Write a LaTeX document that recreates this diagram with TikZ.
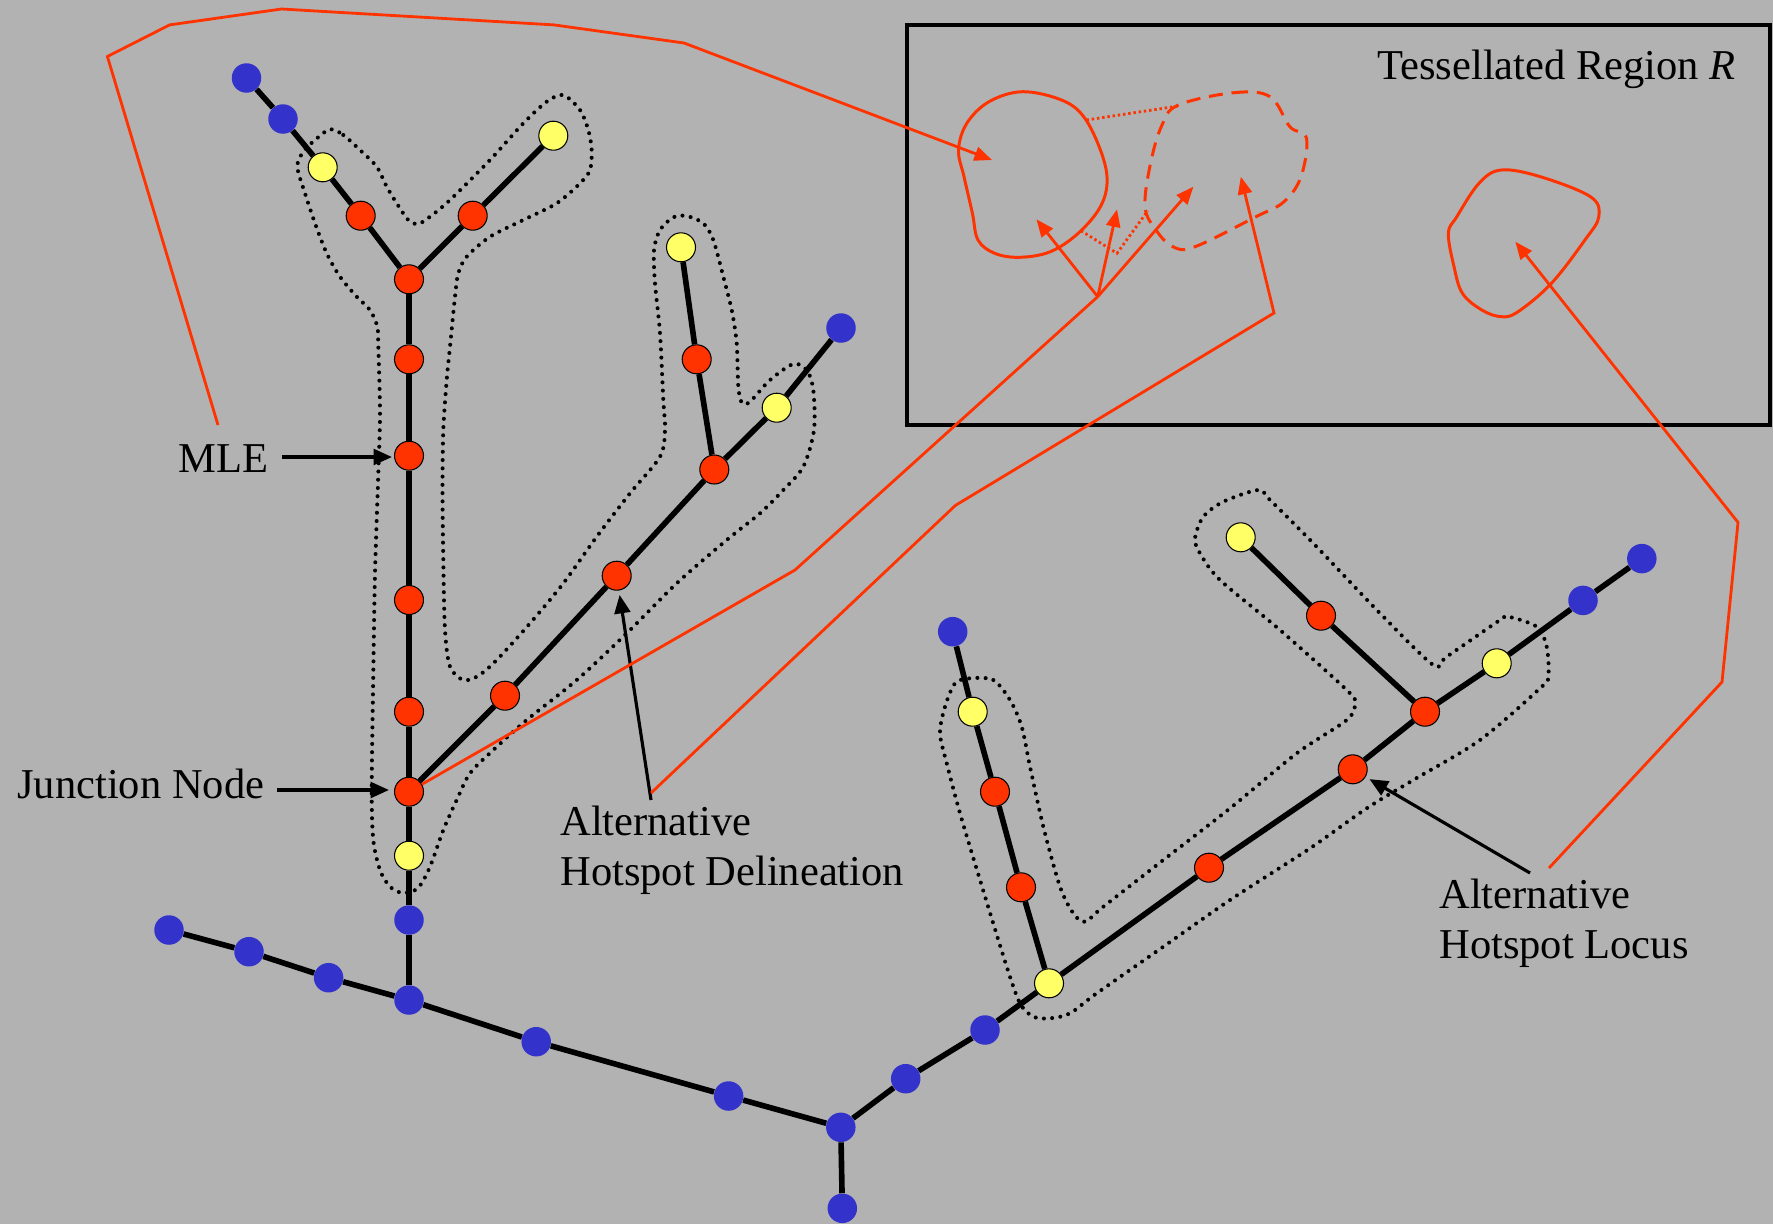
\documentclass[tikz,border=0pt]{standalone}
\usepackage{fontspec}
\setmainfont{Liberation Serif}
\usetikzlibrary{arrows.meta,calc}
\definecolor{bgc}{HTML}{B2B2B2}
\definecolor{rednode}{HTML}{FF3300}
\definecolor{yelnode}{HTML}{FFFF66}
\definecolor{bluenode}{HTML}{3333CC}
\definecolor{orl}{HTML}{FF3300}
\begin{document}
\begin{tikzpicture}[x=0.02cm,y=-0.02cm,
  tn/.style={circle,minimum size=0.58cm,inner sep=0pt,draw=black,line width=0.6pt},
  rn/.style={tn,fill=rednode},
  yn/.style={tn,fill=yelnode},
  bn/.style={circle,minimum size=0.59cm,inner sep=0pt,fill=bluenode},
  edge/.style={line width=3.2pt,black},
  hot/.style={draw=black,line width=2.3pt,dash pattern=on 0pt off 4.7pt,line cap=round},
  lbl/.style={font=\fontsize{24.2pt}{29pt}\selectfont,inner sep=0pt},
  karr/.style={line width=1.8pt,-{Triangle[length=10.5pt,width=9pt]}},
  oline/.style={orl,line width=1.6pt},
  oarr/.style={oline,-{Triangle[length=10pt,width=8pt]}},
  odot/.style={orl,line width=1.6pt,dash pattern=on 1.4pt off 1.6pt},
  loopl/.style={orl,line width=1.7pt},
]
\fill[bgc] (0,0) rectangle (1773,1224);
\useasboundingbox (0,0) rectangle (1773,1224);

% hotspot delineations (dotted)
\draw[hot] plot[smooth cycle,tension=0.5] coordinates {
(330,129.3) (343.3,135) (360,150) (376.7,166.7) (386.7,186.7) (396.7,203.3) (408.3,220) (418,224) (430,216.7) (450,200) (490,160) (523.3,123.3) (546.7,101.7) (563.3,95) (580,110) (588.3,130) (591.7,150) (590,170) (580,183.3) (556.7,203.3) (523.3,220) (490,236.7) (466.7,256.7) (458.3,273.3) (455,296.7) (450,346.7) (446.7,380) (443.3,430) (442.5,490) (443.3,560) (445,630) (450,666.7) (463.3,680) (478,676) (496.7,660) (530,623.3) (563.3,583.3) (596.7,536.7) (630,493.3) (660,456.7) (665,430) (663.3,400) (660,333.3) (655,283.3) (654,250) (660,230) (673.3,217.3) (686.7,216) (703.3,223.3) (713.3,240) (723.3,276.7) (731.7,310) (736.7,343.3) (738.3,386.7) (742,403) (750,401.7) (770,380) (793.3,364) (806.7,370) (813.3,390) (814,430) (803.3,466.7) (783.3,490) (760,513.3) (726.7,540) (676.7,583.3) (626.7,633.3) (576.7,680) (526.7,720) (493.3,750) (470,773.3) (456.7,800) (443.3,830) (430,866.7) (418,888) (403,893) (390,886.7) (380,870) (373.3,840) (371.7,790) (373.3,673.3) (375,573.3) (378.3,473.3) (380,413.3) (378.3,346.7) (377.3,326.7) (370,310) (356.7,296.7) (340,276.7) (326.7,253.3) (315,223.3) (305,193.3) (297.3,166.7) (303.3,151.7) (315,140)};
\draw[hot] plot[smooth cycle,tension=0.5] coordinates {
(970,678.3) (993.3,680) (1010,700) (1021.7,726.7) (1030,766.7) (1043.3,826.7) (1060,886.7) (1073.3,913.3) (1085,921.7) (1103.3,906.7) (1163.3,860) (1230,808.3) (1296.7,753.3) (1346.7,720) (1355,703.3) (1346.7,690) (1280,630) (1220,580) (1200,553.3) (1195,538.3) (1203.3,516.7) (1223.3,501.7) (1258.3,490) (1270,500) (1313.3,543.3) (1380,613.3) (1433.3,665) (1446.7,656.7) (1500,620) (1508.3,616.7) (1536.7,626.7) (1546.7,646.7) (1548.3,676.7) (1540,688.3) (1480,740) (1413.3,780) (1366.7,808.3) (1310,848.3) (1230,900) (1163.3,946.7) (1096.7,993.3) (1070,1013.3) (1050,1018.3) (1033.3,1016.7) (1020,1003.3) (1006.7,966.7) (980,880) (960,813.3) (946.7,763.3) (940,733.3) (945,706.7) (955,683.3)};

% tree nodes
\node[bn] (b1) at (246.5,78) {};
\node[bn] (b2) at (283,119) {};
\node[yn] (y1) at (322.7,167.3) {};
\node[rn] (r1) at (360.7,215.7) {};
\node[rn] (J1) at (409,279.3) {};
\node[rn] (r2) at (472.7,215.7) {};
\node[yn] (y2) at (553.3,135.7) {};
\node[rn] (r3) at (409,359.3) {};
\node[rn] (r4) at (409,455.7) {};
\node[rn] (r5) at (409,600) {};
\node[rn] (r6) at (409,711.7) {};
\node[rn] (J2) at (409,791.7) {};
\node[yn] (y3) at (409,855.7) {};
\node[bn] (b3) at (409,920) {};
\node[bn] (b4) at (409,1000) {};
\node[rn] (r7) at (505,695.7) {};
\node[rn] (r8) at (616.7,575.7) {};
\node[rn] (r9) at (714.3,469.5) {};
\node[yn] (y4) at (776.7,407.7) {};
\node[bn] (b5) at (841,328) {};
\node[rn] (r10) at (696.7,359.3) {};
\node[yn] (y5) at (681,247.3) {};
\node[bn] (b6) at (169,930) {};
\node[bn] (b7) at (249,951.7) {};
\node[bn] (b8) at (328.6,977.7) {};
\node[bn] (b9) at (536.2,1041.7) {};
\node[bn] (b10) at (728.6,1096) {};
\node[bn] (b11) at (840.8,1127.3) {};
\node[bn] (b12) at (842.3,1208.3) {};
\node[bn] (b13) at (905.7,1078.7) {};
\node[bn] (b14) at (985,1030) {};
\node[yn] (y6) at (1049,983.3) {};
\node[rn] (r11) at (1209,867.7) {};
\node[rn] (r12) at (1352.7,769.3) {};
\node[rn] (r13) at (1425,711.7) {};
\node[yn] (y7) at (1496.7,663.3) {};
\node[bn] (b15) at (1583,600.4) {};
\node[bn] (b16) at (1641.8,558.6) {};
\node[rn] (r14) at (1021,887.3) {};
\node[rn] (r15) at (995,791.7) {};
\node[yn] (y8) at (972.7,711.7) {};
\node[bn] (b17) at (952.7,631.7) {};
\node[rn] (r16) at (1321,615.7) {};
\node[yn] (y9) at (1240.7,537.3) {};

% tree edges
\draw[edge] (b1) -- (b2) -- (y1) -- (r1) -- (J1) -- (r2) -- (y2);
\draw[edge] (J1) -- (r3) -- (r4) -- (r5) -- (r6) -- (J2) -- (y3) -- (b3) -- (b4);
\draw[edge] (J2) -- (r7) -- (r8) -- (r9) -- (y4) -- (b5);
\draw[edge] (r9) -- (r10) -- (y5);
\draw[edge] (b6) -- (b7) -- (b8) -- (b4) -- (b9) -- (b10) -- (b11) -- (b12);
\draw[edge] (b11) -- (b13) -- (b14) -- (y6) -- (r11) -- (r12) -- (r13) -- (y7) -- (b15) -- (b16);
\draw[edge] (y6) -- (r14) -- (r15) -- (y8) -- (b17);
\draw[edge] (r13) -- (r16) -- (y9);

% tessellated region
\draw[line width=1.8pt] (907,25) rectangle (1770,425);
\node[lbl,anchor=base east] (tess) at (1736,79.3) {Tessellated Region \textit{R}};
\draw[loopl] plot[smooth cycle,tension=0.6] coordinates {
(1022.5,91.7) (1061.5,100) (1083.7,116.7) (1100.4,150) (1107.1,180) (1100.4,206.7) (1078.2,233.3) (1050.3,251.7) (1019.7,257.3) (994.7,253.3) (978,240) (972.4,213.3) (964,176.7) (958.5,150) (966.8,123.3) (989,101.7)};
\draw[loopl,dash pattern=on 8pt off 5pt] plot[smooth cycle,tension=0.6] coordinates {
(1178.4,105) (1234,92.7) (1270,96.7) (1289.8,126.7) (1306.5,138.3) (1301,176.7) (1284,201.7) (1256,216.7) (1195,246.7) (1172.8,246.7) (1156,230) (1145,206.7) (1150.6,163) (1162,125)};
\draw[loopl] plot[smooth cycle,tension=0.6] coordinates {
(1501.3,170) (1540.3,176.7) (1590.4,196.7) (1598.8,216.7) (1584.9,240) (1551.4,283.3) (1518,311.7) (1501.3,316.7) (1481.8,310) (1462.4,293.3) (1454,266.7) (1448.4,233.3) (1456.8,216.7) (1479,183.3)};
\draw[odot] (1086.5,120) -- (1178.4,106);
\draw[odot] (1081,230.7) -- (1117,253.3) -- (1147.8,210.7);

% labels
\node[lbl,anchor=base east] (mle) at (269,472.7) {MLE};
\node[lbl,anchor=base west] (jn) at (17,798) {Junction Node};
\node[lbl,anchor=base west] (del1) at (560,835) {Alternative};
\node[lbl,anchor=base west] (del2) at (560,885) {Hotspot Delineation};
\node[lbl,anchor=base west] (loc1) at (1439,908) {Alternative};
\node[lbl,anchor=base west] (loc2) at (1439,958.8) {Hotspot Locus};

% black pointer arrows
\coordinate (mleA) at (282,457);
\draw[karr] (mleA) -- ($(mleA -| r4.west)+(-2,0)$);
\coordinate (jnA) at (277.3,790);
\draw[karr] (jnA) -- ($(jnA -| J2.west)+(-5,0)$);
\coordinate (dB) at (651,800);
\draw[karr,shorten >=2.5pt] (dB) -- (r8);
\coordinate (lB) at (1530,873);
\draw[karr,shorten >=2.5pt] (lB) -- (r12);

% orange connectors
\coordinate (mleT) at (218,425);
\coordinate (mleTip) at (992,160);
\draw[oarr] (mleT) -- (107.4,56.5) -- (169.6,24.9) -- (281.5,9) -- (554,24.9) -- (684,43) -- (mleTip);
\coordinate (hub) at (1097.7,296.7);
\draw[oline] (J2) -- (795,570) -- (hub);
\draw[oarr] (hub) -- (1036.4,219.3);
\draw[oarr] (hub) -- (1117,209.3);
\draw[oarr] (hub) -- (1193.4,186.7);
\coordinate (dA) at (651,793);
\coordinate (dTip) at (1240.8,176.7);
\draw[oarr] (dA) -- (955.4,505.4) -- (1274,313) -- (dTip);
\coordinate (lA) at (1549,868);
\coordinate (lTip) at (1515.3,241.7);
\draw[oarr] (lA) -- (1722,682) -- (1738,522.4) -- (lTip);
\end{tikzpicture}
\end{document}
